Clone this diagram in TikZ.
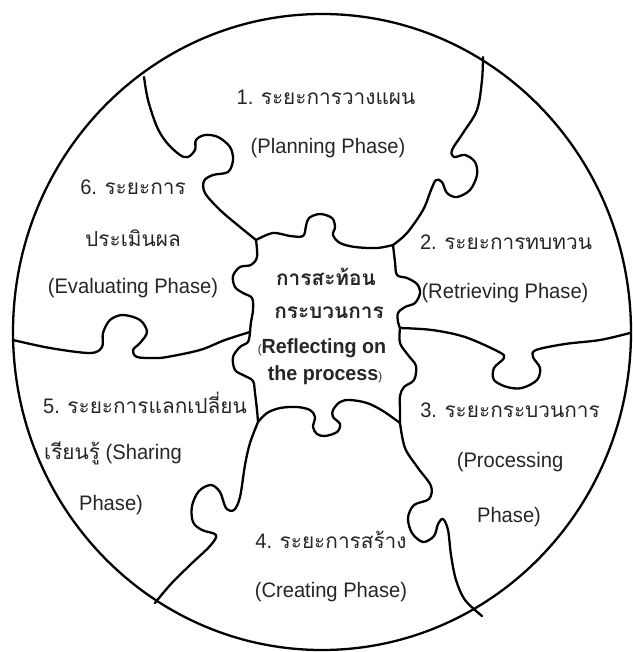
\documentclass[tikz,border=0pt]{standalone}
\usepackage{fontspec}
\setmainfont{Liberation Sans}[FakeStretch=0.96]
\newfontfamily\thai[Script=Thai]{Loma}
\newcommand\thx[1]{{\thai\fontsize{20.8}{25}\selectfont #1}}
\begin{document}
\begin{tikzpicture}[x=1pt,y=-1pt,
  puz/.style={line width=2.3pt, line join=round, line cap=round, black},
  lbl/.style={font=\fontsize{21}{25}\selectfont, text=black!85, inner sep=0pt},
  ctr/.style={font=\fontsize{20.5}{25}\selectfont\bfseries, text=black!85, inner sep=0pt}]
\useasboundingbox[fill=white] (0,0) rectangle (632,652);
% outer circle
\draw[puz] (322,332) ellipse [x radius=309, y radius=318];
% junctions
\coordinate (J1) at (256,240);
\coordinate (J2) at (393,245);
\coordinate (J3) at (250,332);
\coordinate (J4) at (400,328);
\coordinate (J5) at (258,422);
\coordinate (J6) at (400,423);
% boundary 1/6
\draw[puz] plot[smooth, tension=0.55] coordinates {(144,77) (148,100) (157,127) (167,143) (180,155) (188,157) (195,150) (196,140) (205,135) (218,137) (230,147) (233,160) (228,172) (213,175) (204,181) (205,193) (220,210) (240,227) (256,240)};
% boundary 1/2
\draw[puz] plot[smooth, tension=0.55] coordinates {(483,57) (482,80) (477,110) (463,133) (452,150) (454,157) (465,155) (475,162) (477,175) (470,190) (457,197) (447,193) (442,182) (436,180) (431,190) (423,210) (407,233) (393,245)};
% centre top
\draw[puz] plot[smooth, tension=0.55] coordinates {(256,240) (273,233) (290,236) (303,236) (306,226) (309,218) (320,214) (332,218) (335,227) (333,235) (340,243) (355,247) (377,248) (393,245)};
% centre left upper
\draw[puz] plot[smooth, tension=0.55] coordinates {(256,240) (257,257) (251,265) (240,267) (233,276) (235,287) (243,293) (252,298) (253,310) (251,322) (250,332)};
% centre left lower
\draw[puz] plot[smooth, tension=0.55] coordinates {(250,332) (248,342) (240,347) (233,357) (235,370) (245,376) (253,381) (255,393) (257,410) (258,422)};
% centre right upper
\draw[puz] plot[smooth, tension=0.55] coordinates {(393,245) (395,262) (397,275) (407,278) (417,284) (420,293) (415,303) (405,307) (398,313) (398,322) (400,328)};
% centre right lower
\draw[puz] plot[smooth, tension=0.55] coordinates {(400,328) (400,343) (408,355) (416,366) (414,380) (404,387) (400,396) (400,410) (400,423)};
% centre bottom
\draw[puz] plot[smooth, tension=0.55] coordinates {(258,422) (267,413) (280,408) (297,407) (310,410) (315,417) (313,427) (317,434) (325,436) (337,432) (340,424) (333,417) (333,410) (340,402) (350,400) (367,403) (383,411) (400,423)};
% left horizontal boundary 6/5
\draw[puz] plot[smooth, tension=0.55] coordinates {(250,332) (225,340) (200,350) (167,357) (155,358) (137,357) (133,350) (140,343) (147,332) (140,320) (123,315) (110,320) (103,333) (102,347) (90,353) (50,348) (13,340)};
% right horizontal boundary 2/3
\draw[puz] plot[smooth, tension=0.55] coordinates {(400,328) (432,330) (465,337) (499,352) (504,358) (494,368) (494,380) (507,387) (522,388) (537,380) (540,368) (533,357) (536,350) (565,344) (600,340) (630,333)};
% boundary 5/4
\draw[puz] plot[smooth, tension=0.55] coordinates {(258,422) (250,443) (245,465) (240,497) (234,510) (226,508) (220,492) (211,485) (199,491) (192,506) (193,522) (202,530) (216,535) (210,546) (190,565) (170,585) (155,603)};
% boundary 4/3
\draw[puz] plot[smooth, tension=0.55] coordinates {(400,423) (405,448) (418,468) (431,486) (429,499) (414,505) (408,518) (412,533) (423,542) (434,536) (438,524) (443,519) (448,530) (451,555) (456,580) (465,600) (482,616)};
% labels
\node[lbl] (t1a) at (326,97) {1. \thx{ระยะการวางแผน}};
\node[lbl] (t1b) at (328,148) {(Planning Phase)};
\node[lbl] (t6a) at (133,187) {6. \thx{ระยะการ}};
\node[lbl] (t6b) at (133,238) {\thx{ประเมินผล}};
\node[lbl] (t6c) at (133,288) {(Evaluating Phase)};
\node[lbl] (t2a) at (506,242) {2. \thx{ระยะการทบทวน}};
\node[lbl] (t2b) at (505,293) {(Retrieving Phase)};
\node[lbl] (t5a) at (145,403) {5. \thx{ระยะการแลกเปลี่ยน}};
\node[lbl] (t5b) at (113,453) {\thx{เรียนรู้} (Sharing};
\node[lbl] (t5c) at (111,505) {Phase)};
\node[lbl] (t3a) at (510,410) {3. \thx{ระยะกระบวนการ}};
\node[lbl] (t3b) at (510,462) {(Processing};
\node[lbl] (t3c) at (509,517) {Phase)};
\node[lbl] (t4a) at (331,540) {4. \thx{ระยะการสร้าง}};
\node[lbl] (t4b) at (331,592) {(Creating Phase)};
\node[ctr] (c1) at (326,277) {\thx{การสะท้อน}};
\node[ctr] (c2) at (329,313) {\thx{กระบวนการ}};
\node[ctr] (c3) at (322,348) {{\mdseries\fontsize{12}{14}\selectfont(}Reflecting on};
\node[ctr] (c4) at (325,375) {the process{\mdseries\fontsize{12}{14}\selectfont)}};
\end{tikzpicture}
\end{document}
